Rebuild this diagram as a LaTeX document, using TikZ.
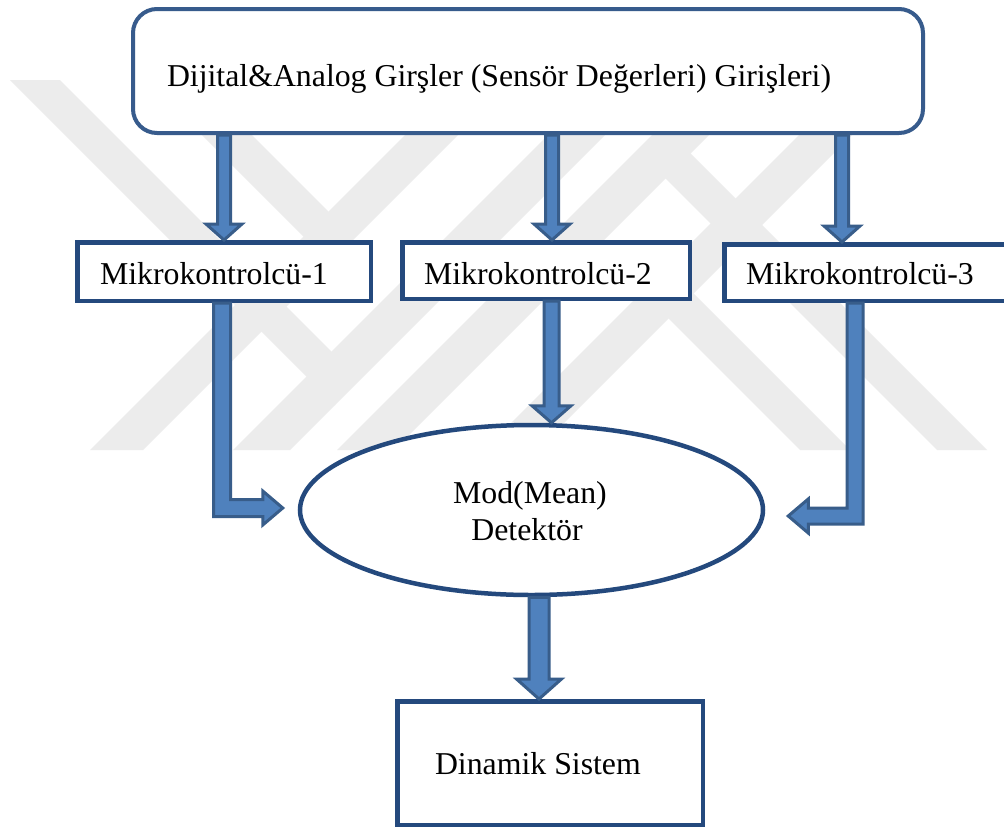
\documentclass[tikz,border=0pt]{standalone}
\usepackage{fontspec}
\setmainfont{Liberation Serif}
\usetikzlibrary{calc,shapes.geometric}

\definecolor{boxblue}{RGB}{36,73,125}
\definecolor{topblue}{RGB}{55,91,140}
\definecolor{arrowfill}{RGB}{79,129,189}
\definecolor{arrowline}{RGB}{56,93,138}
\definecolor{markgray}{RGB}{236,236,236}

\tikzset{
  panel/.style={draw=boxblue, line width=4.5pt, fill=white, inner sep=0pt},
  toppanel/.style={draw=topblue, line width=4pt, fill=white, inner sep=0pt, rounded corners=24pt},
  oval/.style={ellipse, draw=boxblue, line width=4.5pt, fill=white, inner sep=0pt},
  lbl/.style={inner sep=0pt, outer sep=0pt, font=\fontsize{31.8}{38}\selectfont},
  blockarrow/.style={fill=arrowfill, draw=arrowline, line width=3pt, line join=miter},
  emblem/.style={fill=markgray, draw=none}
}

% straight block arrow pointing down: #1 tail, #2 tip, #3 shaft half width, #4 head half width, #5 head length
\newcommand\downblock[5]{%
  \draw[blockarrow] let \p1=(#1), \p2=(#2) in
    (\x2-#3pt,\y1) -- (\x2-#3pt,\y2+#5pt) -- (\x2-#4pt,\y2+#5pt) -- (\x2,\y2)
    -- (\x2+#4pt,\y2+#5pt) -- (\x2+#3pt,\y2+#5pt) -- (\x2+#3pt,\y1) -- cycle;}

% bent block arrow: down, then to the right
\newcommand\elbowright[5]{%
  \draw[blockarrow] let \p1=(#1), \p2=(#2) in
    (\x1-#3pt,\y1) -- (\x1-#3pt,\y2-#3pt) -- (\x2-#5pt,\y2-#3pt) -- (\x2-#5pt,\y2-#4pt) -- (\x2,\y2)
    -- (\x2-#5pt,\y2+#4pt) -- (\x2-#5pt,\y2+#3pt) -- (\x1+#3pt,\y2+#3pt) -- (\x1+#3pt,\y1) -- cycle;}

% bent block arrow: down, then to the left
\newcommand\elbowleft[5]{%
  \draw[blockarrow] let \p1=(#1), \p2=(#2) in
    (\x1+#3pt,\y1) -- (\x1+#3pt,\y2-#3pt) -- (\x2+#5pt,\y2-#3pt) -- (\x2+#5pt,\y2-#4pt) -- (\x2,\y2)
    -- (\x2+#5pt,\y2+#4pt) -- (\x2+#5pt,\y2+#3pt) -- (\x1-#3pt,\y2+#3pt) -- (\x1-#3pt,\y1) -- cycle;}

\begin{document}
\begin{tikzpicture}[x=1pt, y=-1pt]
  \useasboundingbox (0,0) rectangle (1004,828);
  \clip (0,0) rectangle (1004,828);
  \fill[white] (0,0) rectangle (1004,828);

  % faint background emblem
  \fill[emblem] (460,80) -- (513,80) -- (143,450) -- (90,450) -- cycle;
  \fill[emblem] (603,80) -- (660,80) -- (290,450) -- (233,450) -- cycle;
  \fill[emblem] (10,80) -- (60,80) -- (331.5,351.5) -- (335,405) -- cycle;
  \fill[emblem] (147,80) -- (197,80) -- (328.5,211.5) -- (330,263) -- cycle;
  \fill[emblem] (537,450) -- (484,450) -- (854,80) -- (907,80) -- cycle;
  \fill[emblem] (394,450) -- (337,450) -- (707,80) -- (764,80) -- cycle;
  \fill[emblem] (987,450) -- (937,450) -- (665.5,178.5) -- (662,125) -- cycle;
  \fill[emblem] (850,450) -- (800,450) -- (668.5,318.5) -- (667,267) -- cycle;

  % blocks
  \node[toppanel, minimum width=790pt, minimum height=124pt] (top) at (528,71) {};
  \node[panel, minimum width=293.5pt, minimum height=58.5pt] (m1) at (224,271.5) {};
  \node[panel, minimum width=287.5pt, minimum height=56.5pt] (m2) at (546,270.5) {};
  \node[panel, minimum width=320pt, minimum height=56.5pt] (m3) at (884.25,272.5) {};
  \node[oval, minimum width=463pt, minimum height=170pt] (det) at (531.5,510) {};
  \node[panel, minimum width=305.5pt, minimum height=123.5pt] (dyn) at (550,763) {};

  % labels
  \node[lbl, anchor=base west] (toptext) at (167,86) {Dijital\&Analog Girşler (Sensör Değerleri) Girişleri)};
  \node[lbl, anchor=base west] (m1text) at (100,284) {Mikrokontrolcü-1};
  \node[lbl, anchor=base west] (m2text) at (424,284) {Mikrokontrolcü-2};
  \node[lbl, anchor=base west] (m3text) at (746,284) {Mikrokontrolcü-3};
  \node[lbl, anchor=base] (dettext1) at (530,503) {Mod(Mean)};
  \node[lbl, anchor=base] (dettext2) at (527,540) {Detektör};
  \node[lbl, anchor=base west] (dyntext) at (435,774) {Dinamik Sistem};

  % connectors
  \downblock{top.south}{m1.north}{6.5}{18}{16}
  \downblock{top.south}{$(m2.north)+(6,0)$}{6.5}{18}{16}
  \downblock{top.south}{$(m3.north west)+(120,0)$}{6.5}{18}{16}
  \downblock{m2.south}{$(det.north)+(20,0)$}{7.5}{19.5}{17}
  \downblock{det.south}{$(dyn.north)+(-11,0)$}{10}{22.5}{20}
  \elbowright{$(m1.south)+(-2,0)$}{$(det.west)+(-15,-2)$}{8.5}{17}{20}
  \elbowleft{$(m3.south west)+(133,0)$}{$(det.east)+(23,6)$}{8}{17}{20}
\end{tikzpicture}
\end{document}
